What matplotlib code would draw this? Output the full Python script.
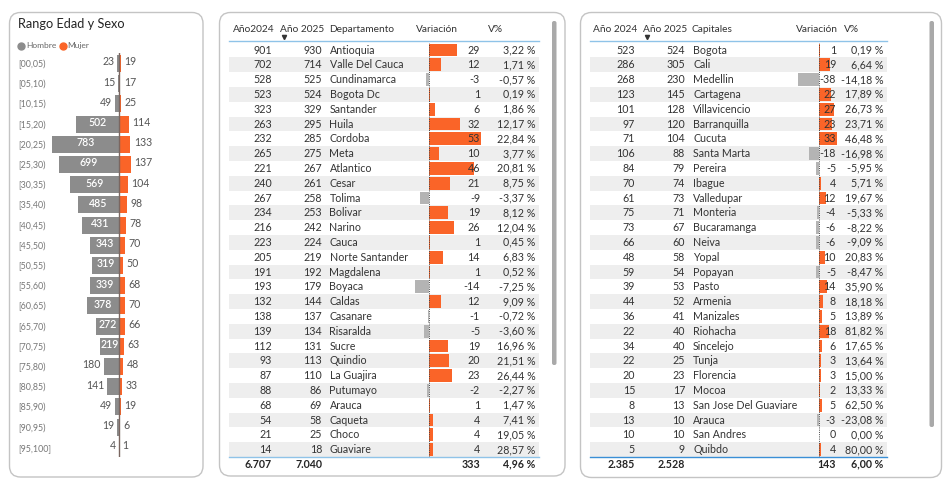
import matplotlib
matplotlib.use('Agg')
import matplotlib.pyplot as plt
from matplotlib.patches import FancyBboxPatch, Rectangle

plt.rcParams['font.family'] = ['Lato', 'DejaVu Sans']

W, H = 950, 482
ORANGE = '#FA6428'
GRAY = '#8C8C8C'
NEG_GRAY = '#B4B4B4'
TEXT = '#333333'

# --- piramide por edad y sexo ---
age_ranges = ['[00,05)', '[05,10)', '[10,15)', '[15,20)', '[20,25)',
              '[25,30)', '[30,35)', '[35,40)', '[40,45)', '[45,50)',
              '[50,55)', '[55,60)', '[60,65)', '[65,70)', '[70,75)',
              '[75,80)', '[80,85)', '[85,90)', '[90,95)', '[95,100]']
hombre = [23, 15, 49, 502, 783, 699, 569, 485, 431, 343,
          319, 339, 378, 272, 219, 180, 141, 49, 19, 4]
mujer = [19, 17, 25, 114, 133, 137, 104, 98, 78, 70,
         50, 68, 70, 66, 63, 48, 33, 19, 6, 1]

# --- departamentos ---
departamentos = ['Antioquia', 'Valle Del Cauca', 'Cundinamarca', 'Bogota Dc',
                 'Santander', 'Huila', 'Cordoba', 'Meta', 'Atlantico', 'Cesar',
                 'Tolima', 'Bolivar', 'Narino', 'Cauca', 'Norte Santander',
                 'Magdalena', 'Boyaca', 'Caldas', 'Casanare', 'Risaralda',
                 'Sucre', 'Quindio', 'La Guajira', 'Putumayo', 'Arauca',
                 'Caqueta', 'Choco', 'Guaviare']
dep_2024 = [901, 702, 528, 523, 323, 263, 232, 265, 221, 240, 267, 234, 216, 223,
            205, 191, 193, 132, 138, 139, 112, 93, 87, 88, 68, 54, 21, 14]
dep_2025 = [930, 714, 525, 524, 329, 295, 285, 275, 267, 261, 258, 253, 242, 224,
            219, 192, 179, 144, 137, 134, 131, 113, 110, 86, 69, 58, 25, 18]
dep_var = [29, 12, -3, 1, 6, 32, 53, 10, 46, 21, -9, 19, 26, 1,
           14, 1, -14, 12, -1, -5, 19, 20, 23, -2, 1, 4, 4, 4]
dep_pct = [3.22, 1.71, -0.57, 0.19, 1.86, 12.17, 22.84, 3.77, 20.81, 8.75,
           -3.37, 8.12, 12.04, 0.45, 6.83, 0.52, -7.25, 9.09, -0.72, -3.60,
           16.96, 21.51, 26.44, -2.27, 1.47, 7.41, 19.05, 28.57]
dep_totals = ['6.707', '7.040', '333', '4,96 %']

# --- capitales ---
capitales = ['Bogota', 'Cali', 'Medellin', 'Cartagena', 'Villavicencio',
             'Barranquilla', 'Cucuta', 'Santa Marta', 'Pereira', 'Ibague',
             'Valledupar', 'Monteria', 'Bucaramanga', 'Neiva', 'Yopal',
             'Popayan', 'Pasto', 'Armenia', 'Manizales', 'Riohacha',
             'Sincelejo', 'Tunja', 'Florencia', 'Mocoa', 'San Jose Del Guaviare',
             'Arauca', 'San Andres', 'Quibdo']
cap_2024 = [523, 286, 268, 123, 101, 97, 71, 106, 84, 70, 61, 75, 73, 66,
            48, 59, 39, 44, 36, 22, 34, 22, 20, 15, 8, 13, 10, 5]
cap_2025 = [524, 305, 230, 145, 128, 120, 104, 88, 79, 74, 73, 71, 67, 60,
            58, 54, 53, 52, 41, 40, 40, 25, 23, 17, 13, 10, 10, 9]
cap_var = [1, 19, -38, 22, 27, 23, 33, -18, -5, 4, 12, -4, -6, -6,
           10, -5, 14, 8, 5, 18, 6, 3, 3, 2, 5, -3, 0, 4]
cap_pct = [0.19, 6.64, -14.18, 17.89, 26.73, 23.71, 46.48, -16.98, -5.95, 5.71,
           19.67, -5.33, -8.22, -9.09, 20.83, -8.47, 35.90, 18.18, 13.89, 81.82,
           17.65, 13.64, 15.00, 13.33, 62.50, -23.08, 0.00, 80.00]
cap_totals = ['2.385', '2.528', '143', '6,00 %']

fig = plt.figure(figsize=(W / 100, H / 100), dpi=100)


def px_axes(x0, y0, x1, y1):
    ax = fig.add_axes([x0 / W, 1 - y1 / H, (x1 - x0) / W, (y1 - y0) / H])
    ax.set_facecolor('none')
    ax.set_axis_off()
    return ax


# background (panels, shading) and foreground (all table text)
bg = px_axes(0, 0, W, H)
fg = px_axes(0, 0, W, H)
fg.set_zorder(10)
for a in (bg, fg):
    a.set_xlim(0, W)
    a.set_ylim(H, 0)


def panel(x0, y0, x1, y1):
    bg.add_patch(FancyBboxPatch((x0, y0), x1 - x0, y1 - y0,
                                boxstyle='round,pad=0,rounding_size=11',
                                fc='white', ec='#c4c4c4', lw=1))


panel(9.5, 12.5, 203, 477)
panel(219.5, 12.5, 565, 476)
panel(580.5, 12.5, 941.5, 477.5)

# ---------------- piramide ----------------
fg.text(18, 24, 'Rango Edad y Sexo', fontsize=9.2, color='#252525', va='center')
fg.plot(21, 45.5, 'o', ms=5, color=GRAY)
fg.text(26, 45.5, 'Hombre', fontsize=6, color='#666666', va='center')
fg.plot(62.5, 45.5, 'o', ms=5, color=ORANGE)
fg.text(67.5, 45.5, 'Mujer', fontsize=6, color='#666666', va='center')

P_TOP, P_DY, P_CX, P_K = 63.5, 20.2, 119, 0.0855
py0 = P_TOP - P_DY / 2
py1 = P_TOP + (len(age_ranges) - 0.5) * P_DY
pyr = px_axes(18, py0, 200, py1)
pyr.set_xlim(-(P_CX - 18) / P_K, (200 - P_CX) / P_K)
pyr.set_ylim(len(age_ranges) - 0.5, -0.5)
rows = range(len(age_ranges))
pyr.barh(rows, [-v for v in hombre], height=0.85, color=GRAY)
pyr.barh(rows, mujer, height=0.85, color=ORANGE)
pyr.axvline(0, color='#7a6660', lw=1)
for i, lab in enumerate(age_ranges):
    pyr.text(0, i + 0.05, lab, transform=pyr.get_yaxis_transform(), ha='left',
             va='center', fontsize=6.4, color='#777777')
    h = hombre[i]
    if h >= 200:
        pyr.text(-h / 2, i - 0.08, str(h), ha='center', va='center',
                 fontsize=7.6, color='white', fontweight='semibold')
    else:
        pyr.annotate(str(h), (-h, i - 0.08), xytext=(-2, 0),
                     textcoords='offset points', ha='right', va='center',
                     fontsize=7.6, color='#555555')
    pyr.annotate(str(mujer[i]), (mujer[i], i - 0.08), xytext=(2.5, 0),
                 textcoords='offset points', ha='left', va='center',
                 fontsize=7.6, color='#555555')

# ---------------- tablas ----------------
ROW0, DY = 50, 14.8
FS = 7.7
FS_HEAD = 7.3


def fmt_pct(v):
    return '{:.2f}'.format(v).replace('.', ',') + ' %'


def draw_table(lay, headers, names, y24, y25, var, pct, totals):
    n = len(names)
    sx0, sx1 = lay['shade']
    for i in range(n):
        yc = ROW0 + i * DY
        if i % 2 == 1:
            bg.add_patch(Rectangle((sx0, yc - DY / 2), sx1 - sx0, DY,
                                   fc='#eeeeee', ec='none'))
    # header
    for (hx, txt) in zip(lay['head_x'], headers):
        fg.text(hx, 29, txt, fontsize=FS_HEAD, color=TEXT, va='center')
    fg.plot(lay['head_x'][1] + 4, 36.5, marker='v', ms=3, color='#333333')
    bg.plot([sx0, sx1], [41, 41], color='#8fc3e8', lw=1)
    bg.plot([sx0, sx1], [ROW0 + (n - 0.5) * DY, ROW0 + (n - 0.5) * DY],
            color=lay['foot'], lw=1)

    # variation bars
    zx, k = lay['zero'], lay['k']
    bx0, bx1 = lay['bar_span']
    bax = px_axes(bx0, ROW0 - DY / 2, bx1, ROW0 + (n - 0.5) * DY)
    bax.set_xlim((bx0 - zx) / k, (bx1 - zx) / k)
    bax.set_ylim(n - 0.5, -0.5)
    colors = [ORANGE if v >= 0 else NEG_GRAY for v in var]
    bax.barh(range(n), var, height=0.86, color=colors)
    bax.axvline(0, color='#444444', lw=0.7, ls=(0, (1, 1.3)))

    c24, c25, cname, cvar, cpct = lay['cols']
    for i in range(n):
        yc = ROW0 + i * DY
        fg.text(c24, yc, str(y24[i]), ha='right', va='center', fontsize=FS, color=TEXT)
        fg.text(c25, yc, str(y25[i]), ha='right', va='center', fontsize=FS, color=TEXT)
        fg.text(cname, yc, names[i], ha='left', va='center', fontsize=FS, color=TEXT)
        fg.text(cvar, yc, str(var[i]), ha='right', va='center', fontsize=FS, color=TEXT)
        fg.text(cpct, yc, fmt_pct(pct[i]), ha='right', va='center', fontsize=FS,
                color=TEXT)
    yt = 464
    for cx, txt in zip([c24, c25, cvar, cpct], totals):
        fg.text(cx, yt, txt, ha='right', va='center', fontsize=FS,
                color='#252525', fontweight='bold')
    # scrollbar
    sbx, sby1 = lay['scroll']
    bg.add_patch(FancyBboxPatch((sbx, 21), 4.5, sby1 - 21,
                                boxstyle='round,pad=0,rounding_size=2',
                                fc='#a9a9a9', ec='none'))


dep_layout = {
    'shade': (229, 539),
    'head_x': [232.5, 280, 329.5, 415.5, 488],
    'foot': '#8fc3e8',
    'zero': 429, 'k': 0.98, 'bar_span': (400, 495),
    'cols': (272, 322, 329.5, 480, 535.5),
    'scroll': (552, 365),
}
cap_layout = {
    'shade': (590, 887),
    'head_x': [593, 643, 692, 796, 844],
    'foot': '#3a8fd6',
    'zero': 819, 'k': 0.56, 'bar_span': (780, 850),
    'cols': (635, 685, 693, 836, 883.5),
    'scroll': (929.5, 427),
}

draw_table(dep_layout, ['Año2024', 'Año 2025', 'Departamento', 'Variación', 'V%'],
           departamentos, dep_2024, dep_2025, dep_var, dep_pct, dep_totals)
draw_table(cap_layout, ['Año 2024', 'Año 2025', 'Capitales', 'Variación', 'V%'],
           capitales, cap_2024, cap_2025, cap_var, cap_pct, cap_totals)

fig.savefig('out.png', dpi=100)
